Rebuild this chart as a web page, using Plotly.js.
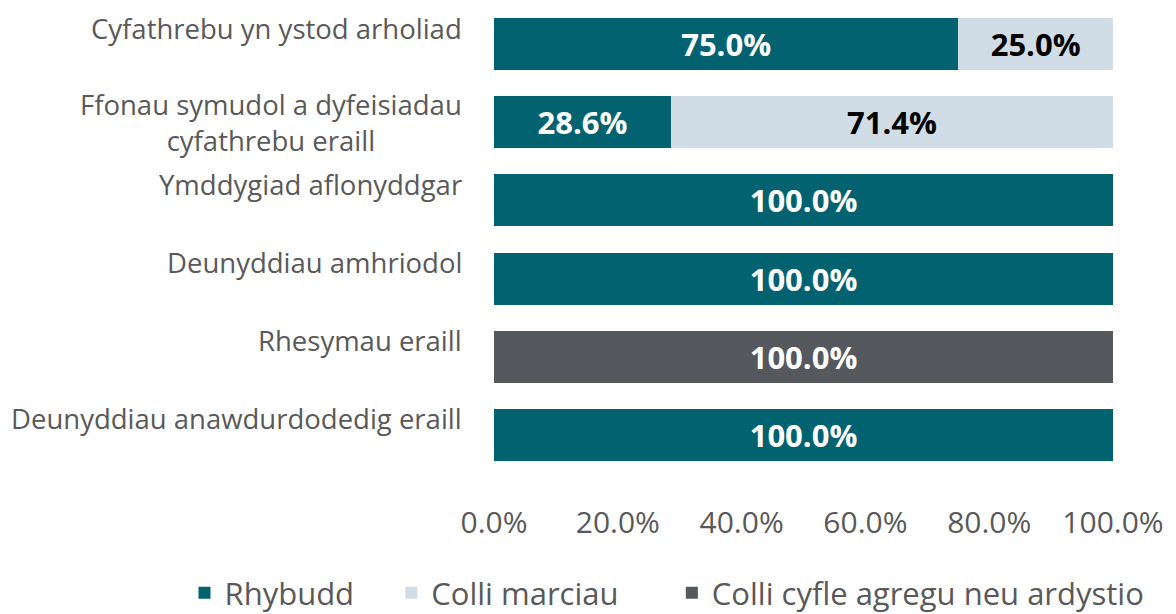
<!DOCTYPE html>
<html><head><meta charset="utf-8">
<script src="https://cdn.plot.ly/plotly-3.0.1.min.js"></script>
<style>body{margin:0;background:#fff}#c{width:1176px;height:614px}</style>
</head><body><div id="c"></div>
<script>
const categories = ["Cyfathrebu yn ystod arholiad","Ffonau symudol a dyfeisiadau<br>cyfathrebu eraill","Ymddygiad aflonyddgar","Deunyddiau amhriodol","Rhesymau eraill","Deunyddiau anawdurdodedig eraill"];
const seriesNames = ["Rhybudd","Colli marciau","Colli cyfle agregu neu ardystio"];
const rhybudd = [75.0, 28.6, 100.0, 100.0, null, 100.0];
const colliMarciau = [25.0, 71.4, null, null, null, null];
const colliCyfle = [null, null, null, null, 100.0, null];
const xTicks = [0,20,40,60,80,100];
const xTickLabels = ["0.0%","20.0%","40.0%","60.0%","80.0%","100.0%"];

const colors = ["#03626F","#D0DDE6","#55585C"];
const textColors = ["#FFFFFF","#000000","#FFFFFF"];
const vals = [rhybudd, colliMarciau, colliCyfle];
const font = "Open Sans, Noto Sans, sans-serif";
const pads = ["\u00a0\u00a0\u00a0\u00a0", "\u00a0\u00a0\u00a0\u00a0\u00a0\u00a0", ""];

const traces = vals.map((v,i)=>({
  type:"bar", orientation:"h", name:seriesNames[i] + pads[i],
  y:categories, x:v,
  marker:{color:colors[i]},
  text:v.map(d=>d==null?"":d.toFixed(1)+"%"),
  textposition:"inside", insidetextanchor:"middle",
  textfont:{family:font,size:31,color:textColors[i],weight:"bold"},
  hoverinfo:"none"
}));

const annotations = categories.map((c,i)=>{
  const two = c.indexOf("<br>")>=0;
  return {
    xref:"paper", yref:"y", x:-0.048, y:c, xanchor:"right", yanchor:"middle",
    text:c, showarrow:false, align: two ? "center" : "right",
    yshift: two ? 0 : 16,
    font:{family:font,size:27.5,color:"#595959"}
  };
});

const layout = {
  width:1176, height:614,
  margin:{l:494,r:63,t:5,b:140,autoexpand:false},
  barmode:"stack", bargap:0.333,
  showlegend:true,
  legend:{orientation:"h", x:-0.5, xanchor:"left", y:-0.254, yanchor:"middle",
    font:{family:font,size:31,color:"#595959"}, traceorder:"normal"},
  xaxis:{range:[0,100], tickvals:xTicks, ticktext:xTickLabels, showgrid:false, zeroline:false,
    showline:false, tickfont:{family:font,size:30,color:"#595959"}, ticks:"", ticklabelstandoff:28},
  yaxis:{autorange:"reversed", showticklabels:false, showgrid:false, zeroline:false, showline:false},
  annotations:annotations,
  paper_bgcolor:"#fff", plot_bgcolor:"#fff",
  uniformtext:{mode:false}
};
Plotly.newPlot("c", traces, layout, {displayModeBar:false, staticPlot:true});
</script></body></html>
